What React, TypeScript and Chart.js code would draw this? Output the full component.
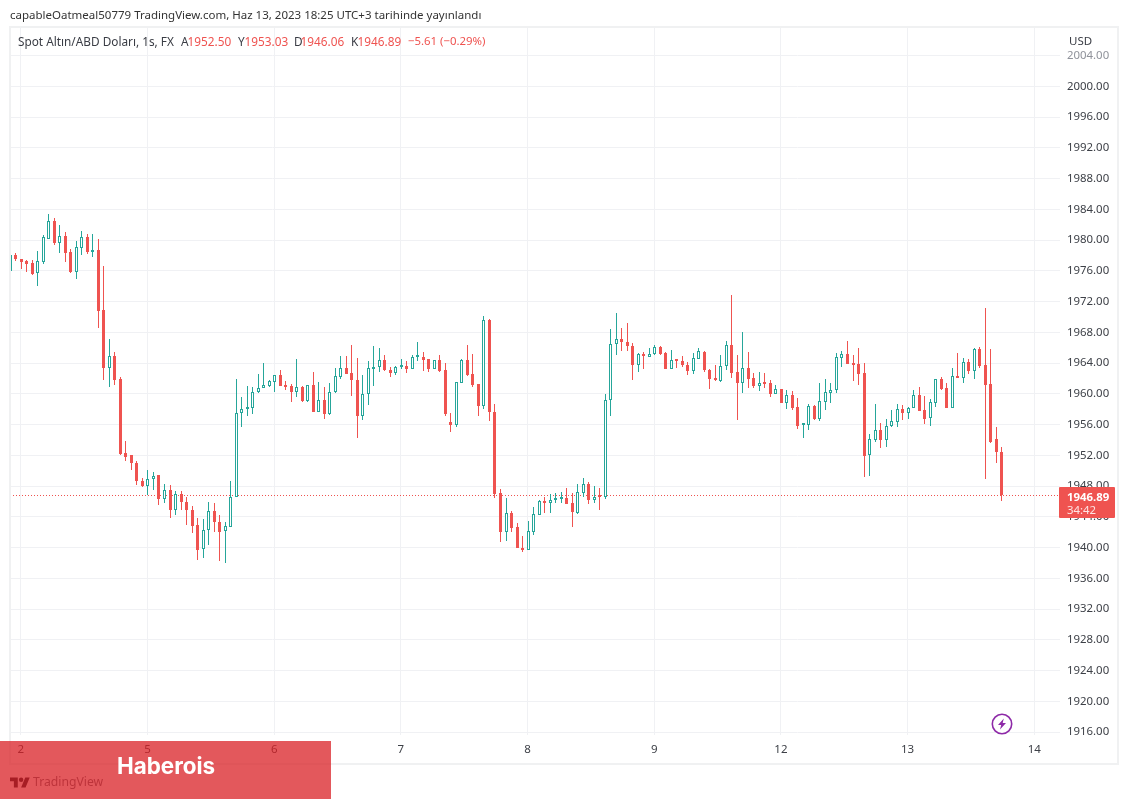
import { useEffect, useRef } from "react";
import Chart from "chart.js/auto";

const FONT = "'Noto Sans', sans-serif";
const UP = "#26a69a";
const DOWN = "#ef5350";
const GRID = "#f0f1f4";
const TEXT = "#3d4047";

const opens = [
  1976.0, 1978.0, 1977.5, 1977.3, 1977.05, 1975.7, 1977.15, 1980.2, 1982.45, 1979.65,
  1980.55, 1978.4, 1975.9, 1979.0, 1980.45, 1978.5, 1978.65, 1970.9, 1963.4, 1964.9,
  1961.9, 1952.25, 1952.0, 1951.0, 1948.7, 1948.0, 1948.9, 1949.4, 1946.35, 1947.5,
  1944.9, 1947.0, 1946.0, 1944.9, 1942.9, 1939.85, 1942.3, 1944.8, 1943.35, 1942.15,
  1942.75, 1946.55, 1957.45, 1958.0, 1958.1, 1960.2, 1960.7, 1961.05, 1961.6, 1962.5,
  1961.2, 1961.05, 1960.3, 1960.9, 1959.05, 1961.15, 1957.7, 1959.2, 1957.4, 1960.2,
  1962.2, 1963.35, 1962.7, 1961.85, 1957.1, 1959.95, 1963.3, 1963.45, 1964.4, 1963.15,
  1962.75, 1963.45, 1963.65, 1963.3, 1964.75, 1964.85, 1964.55, 1963.3, 1964.4, 1963.1,
  1956.35, 1955.95, 1961.45, 1964.4, 1962.6, 1961.3, 1958.45, 1969.6, 1957.65, 1947.1,
  1942.0, 1944.5, 1942.7, 1939.95, 1939.75, 1942.1, 1944.3, 1946.1, 1945.75, 1946.15,
  1946.3, 1946.45, 1945.75, 1944.55, 1947.15, 1948.3, 1946.25, 1946.65, 1946.55, 1959.2,
  1966.5, 1967.15, 1966.75, 1966.2, 1963.7, 1965.05, 1964.85, 1965.15, 1966.15, 1965.35,
  1963.3, 1964.45, 1964.25, 1963.8, 1963.0, 1964.55, 1965.5, 1963.1, 1962.05, 1961.7,
  1963.6, 1966.4, 1962.8, 1961.45, 1963.35, 1962.05, 1961.0, 1961.5, 1961.4, 1960.0,
  1960.6, 1958.85, 1959.8, 1958.25, 1955.95, 1955.9, 1958.4, 1956.75, 1959.0, 1960.15,
  1960.45, 1964.7, 1965.15, 1964.0, 1963.9, 1962.7, 1952.0, 1954.05, 1955.25, 1954.05,
  1955.8, 1956.35, 1958.0, 1957.55, 1958.15, 1959.8, 1957.85, 1956.8, 1958.85, 1961.95,
  1960.75, 1958.2, 1962.35, 1962.1, 1964.1, 1963.0, 1965.85, 1963.75, 1961.3, 1954.15,
  1952.5,
];

const closes = [
  1978.06, 1977.5, 1977.15, 1976.9, 1975.6, 1977.25, 1980.35, 1982.45, 1979.65, 1980.55,
  1978.35, 1975.85, 1979.05, 1980.35, 1978.45, 1978.65, 1970.8, 1963.4, 1964.9, 1961.8,
  1952.2, 1951.85, 1951.0, 1948.65, 1948.0, 1948.95, 1949.35, 1946.3, 1947.5, 1944.85,
  1947.0, 1945.9, 1944.85, 1942.8, 1939.75, 1942.3, 1944.8, 1943.3, 1942.1, 1942.8,
  1946.6, 1957.5, 1958.0, 1958.15, 1960.25, 1960.75, 1961.15, 1961.7, 1962.4, 1961.05,
  1960.95, 1960.3, 1960.9, 1959.05, 1961.15, 1957.7, 1959.2, 1957.4, 1960.25, 1962.35,
  1963.35, 1962.65, 1961.75, 1957.1, 1960.0, 1963.35, 1963.55, 1964.4, 1963.05, 1962.75,
  1963.5, 1963.65, 1963.3, 1964.85, 1964.85, 1964.45, 1963.3, 1964.4, 1963.0, 1957.4,
  1956.0, 1961.55, 1964.45, 1962.5, 1961.2, 1958.45, 1969.6, 1957.6, 1947.0, 1942.0,
  1944.5, 1942.6, 1939.9, 1939.75, 1942.15, 1944.4, 1946.05, 1945.75, 1946.15, 1946.3,
  1946.45, 1945.7, 1944.6, 1947.2, 1948.3, 1946.25, 1946.6, 1946.55, 1959.2, 1966.5,
  1967.15, 1966.7, 1966.2, 1963.7, 1965.15, 1964.9, 1965.2, 1966.15, 1965.25, 1963.3,
  1964.35, 1964.3, 1963.7, 1963.0, 1964.65, 1965.55, 1963.1, 1962.0, 1961.75, 1963.6,
  1966.4, 1962.7, 1961.45, 1963.35, 1961.95, 1961.0, 1961.45, 1961.3, 1960.0, 1960.6,
  1958.85, 1959.8, 1958.2, 1955.85, 1956.0, 1958.4, 1956.75, 1959.05, 1960.2, 1960.5,
  1964.8, 1965.15, 1963.95, 1963.8, 1962.6, 1951.95, 1954.1, 1955.25, 1954.05, 1955.85,
  1956.45, 1958.0, 1957.55, 1958.15, 1959.8, 1957.8, 1956.75, 1958.9, 1961.95, 1960.65,
  1958.2, 1962.3, 1962.1, 1964.1, 1963.0, 1965.85, 1963.65, 1961.15, 1953.8, 1952.45,
  1946.89,
];

const highs = [
  1978.2, 1978.3, 1977.5, 1977.4, 1977.4, 1978.6, 1980.66, 1983.4, 1982.9, 1981.9,
  1981.0, 1978.8, 1979.85, 1981.2, 1980.75, 1980.8, 1980.1, 1976.6, 1967.2, 1965.4,
  1962.15, 1953.85, 1952.1, 1951.25, 1949.0, 1950.15, 1949.8, 1949.5, 1948.3, 1948.15,
  1947.35, 1947.4, 1946.6, 1945.45, 1943.9, 1943.75, 1945.95, 1945.8, 1944.2, 1943.35,
  1948.7, 1961.95, 1959.6, 1961.05, 1960.9, 1962.6, 1964.0, 1961.85, 1962.5, 1963.15,
  1961.7, 1961.3, 1964.55, 1961.0, 1961.2, 1962.8, 1961.5, 1960.95, 1961.4, 1963.4,
  1964.95, 1964.9, 1966.4, 1964.65, 1962.5, 1964.3, 1966.25, 1966.0, 1965.05, 1963.5,
  1963.6, 1964.6, 1964.3, 1965.1, 1966.7, 1965.45, 1964.55, 1964.45, 1965.05, 1964.0,
  1957.5, 1961.55, 1964.6, 1966.4, 1965.2, 1961.3, 1970.15, 1969.75, 1958.7, 1947.6,
  1946.45, 1944.75, 1943.2, 1941.55, 1943.5, 1945.3, 1946.2, 1946.65, 1947.0, 1947.15,
  1947.2, 1947.8, 1947.1, 1948.3, 1949.05, 1948.6, 1948.0, 1947.8, 1960.0, 1968.45,
  1970.5, 1968.55, 1969.25, 1966.65, 1965.35, 1965.45, 1966.0, 1966.4, 1966.25, 1965.5,
  1965.7, 1964.6, 1964.9, 1964.15, 1965.3, 1965.95, 1965.55, 1963.25, 1963.75, 1965.05,
  1966.85, 1972.85, 1965.05, 1968.0, 1965.45, 1962.7, 1962.8, 1962.7, 1961.8, 1961.15,
  1960.65, 1960.5, 1960.35, 1959.45, 1956.2, 1958.65, 1958.5, 1961.4, 1962.0, 1961.4,
  1965.3, 1965.6, 1966.9, 1965.05, 1965.95, 1964.0, 1954.75, 1958.65, 1956.15, 1956.7,
  1957.9, 1958.7, 1958.5, 1958.25, 1960.5, 1960.85, 1959.75, 1959.35, 1962.0, 1962.15,
  1961.4, 1963.35, 1965.3, 1964.65, 1964.5, 1965.95, 1966.15, 1971.15, 1965.9, 1955.75,
  1953.03,
];

const lows = [
  1976.0, 1977.3, 1976.2, 1975.85, 1975.5, 1974.0, 1976.9, 1980.15, 1979.3, 1978.35,
  1977.1, 1975.75, 1975.0, 1978.05, 1978.25, 1977.85, 1968.6, 1961.8, 1960.95, 1961.15,
  1952.1, 1951.3, 1950.1, 1948.1, 1947.95, 1946.9, 1947.5, 1945.6, 1945.75, 1943.9,
  1944.3, 1944.95, 1943.0, 1941.9, 1938.45, 1938.6, 1940.3, 1942.1, 1938.3, 1938.05,
  1942.65, 1946.55, 1955.65, 1957.1, 1957.35, 1960.1, 1960.7, 1960.95, 1960.3, 1961.0,
  1960.5, 1959.0, 1959.65, 1959.0, 1959.0, 1957.7, 1957.7, 1956.75, 1957.3, 1960.1,
  1962.0, 1962.6, 1959.75, 1954.3, 1956.65, 1958.6, 1961.05, 1962.9, 1962.95, 1962.2,
  1962.4, 1963.25, 1962.75, 1963.25, 1964.25, 1963.0, 1962.9, 1963.25, 1962.8, 1957.15,
  1955.0, 1955.7, 1961.4, 1962.35, 1960.85, 1957.15, 1958.05, 1956.5, 1946.4, 1940.8,
  1940.9, 1942.0, 1939.9, 1939.5, 1939.7, 1941.7, 1944.25, 1944.45, 1944.5, 1945.85,
  1945.75, 1945.65, 1942.7, 1944.4, 1946.6, 1945.7, 1945.85, 1944.85, 1946.3, 1957.15,
  1965.1, 1965.6, 1965.55, 1961.75, 1962.9, 1963.25, 1964.85, 1965.1, 1965.1, 1963.3,
  1963.25, 1963.4, 1963.55, 1962.4, 1962.6, 1964.55, 1962.85, 1960.65, 1961.7, 1961.6,
  1963.15, 1962.1, 1956.6, 1960.15, 1960.8, 1960.75, 1960.4, 1960.75, 1959.65, 1959.95,
  1958.75, 1958.05, 1957.9, 1955.45, 1954.2, 1955.35, 1956.6, 1956.5, 1957.9, 1958.8,
  1960.15, 1963.55, 1963.9, 1961.65, 1961.1, 1949.25, 1949.35, 1953.8, 1953.0, 1953.15,
  1955.75, 1955.75, 1956.6, 1956.75, 1958.1, 1957.8, 1956.1, 1955.85, 1958.35, 1960.45,
  1958.15, 1958.15, 1962.05, 1961.45, 1962.6, 1961.95, 1963.4, 1948.95, 1953.65, 1950.95,
  1946.06,
];

// bar numbers where a new day starts, and the day shown there
const dayStarts = [2, 25, 48, 71, 94, 117, 140, 163, 186];
const dayLabels = ["2", "5", "6", "7", "8", "9", "12", "13", "14"];

const priceTicks = [
  1916, 1920, 1924, 1928, 1932, 1936, 1940, 1944, 1948, 1952, 1956, 1960, 1964, 1968, 1972,
  1976, 1980, 1984, 1988, 1992, 1996, 2000, 2004,
];

const lastClose = 1946.89;

const title = "capableOatmeal50779 TradingView.com, Haz 13, 2023 18:25 UTC+3 tarihinde yayınlandı";
const legendName = "Spot Altın/ABD Doları, 1s, FX";
const legendKeys = ["A", "Y", "D", "K"];
const legendValues = ["1952.50", "1953.03", "1946.06", "1946.89"];
const legendKeyX = [181, 238, 294, 351];
const legendChange = "−5.61 (−0.29%)";

const X_MIN = 0.04;
const X_MAX = 190.67;
const Y_MIN = 1915.64;
const Y_MAX = 2007.71;

const label = (left: number, top: number, size: number, color: string) =>
  ({
    position: "absolute",
    left,
    top,
    fontSize: size,
    lineHeight: "16px",
    color,
    whiteSpace: "nowrap",
  }) as const;

// line the candles up with whole pixels so 1px borders stay sharp
const snapToPixels = {
  id: "snapToPixels",
  afterDatasetsUpdate: (chart: any) => {
    chart.data.datasets.forEach((_: any, i: number) => {
      const meta = chart.getDatasetMeta(i);
      meta.data.forEach((el: any) => {
        if (meta.type === "bar") {
          el.x = Math.round(el.x) + 0.5;
          el.y = Math.round(el.y);
          el.base = Math.round(el.base);
        } else {
          el.y = Math.round(el.y) + 0.5;
        }
      });
    });
  },
};

const App = () => {
  const canvasRef = useRef<HTMLCanvasElement | null>(null);

  useEffect(() => {
    if (!canvasRef.current) return;

    const colors = opens.map((o, i) => (closes[i] >= o ? UP : DOWN));

    const chart = new Chart(canvasRef.current, {
      type: "bar",
      plugins: [snapToPixels],
      data: {
        datasets: [
          {
            type: "line",
            data: [
              { x: X_MIN, y: lastClose },
              { x: X_MAX, y: lastClose },
            ],
            borderColor: DOWN,
            borderWidth: 1,
            borderDash: [1, 2],
            pointRadius: 0,
            order: 3,
          },
          {
            // wicks
            data: opens.map((_, i) => ({ x: i, y: [lows[i], highs[i]] })),
            backgroundColor: colors,
            barThickness: 1,
            grouped: false,
            inflateAmount: 0,
            order: 2,
          },
          {
            // bodies, rising candles stay hollow
            data: opens.map((o, i) => ({ x: i, y: [o, closes[i]] })),
            backgroundColor: colors.map((c) => (c === UP ? "#ffffff" : DOWN)),
            borderColor: colors,
            borderWidth: 1,
            borderSkipped: false,
            barThickness: 3,
            minBarLength: 2,
            grouped: false,
            inflateAmount: 0,
            order: 1,
          },
        ],
      } as any,
      options: {
        responsive: false,
        animation: false,
        layout: { padding: { left: 10, top: 27, right: 0, bottom: 35 } },
        plugins: { legend: { display: false }, tooltip: { enabled: false } },
        scales: {
          x: {
            type: "linear",
            min: X_MIN,
            max: X_MAX,
            offset: false,
            border: { display: false },
            grid: { color: GRID, offset: false, drawTicks: false },
            afterBuildTicks: (scale: any) => {
              scale.ticks = dayStarts.map((value) => ({ value }));
            },
            afterFit: (scale: any) => {
              scale.height = 30;
            },
            ticks: {
              autoSkip: false,
              maxRotation: 0,
              padding: 8,
              color: TEXT,
              font: { family: FONT, size: 11.5 },
              callback: (_: any, i: number) => dayLabels[i],
            },
          },
          y: {
            position: "right",
            min: Y_MIN,
            max: Y_MAX,
            border: { display: false },
            grid: { color: GRID, drawTicks: false },
            afterBuildTicks: (scale: any) => {
              scale.ticks = priceTicks.map((value) => ({ value }));
            },
            afterFit: (scale: any) => {
              scale.width = 69;
            },
            ticks: {
              padding: 7,
              color: (ctx: any) => (ctx.tick.value === 2004 ? "#8f929a" : TEXT),
              font: { family: FONT, size: 11.4 },
              callback: (v: any) => Number(v).toFixed(2),
            },
          },
        },
      },
    });

    return () => {
      chart.destroy();
    };
  }, []);

  return (
    <div
      style={{
        position: "absolute",
        left: 0,
        top: 0,
        width: 1129,
        height: 800,
        overflow: "hidden",
        background: "#fff",
        fontFamily: FONT,
      }}
    >
      <canvas ref={canvasRef} width={1129} height={800} style={{ display: "block" }} />

      {/* frame around the chart */}
      <div
        style={{
          position: "absolute",
          left: 9,
          top: 26,
          width: 1106,
          height: 735,
          border: "2px solid #f0f1f2",
        }}
      />

      <div style={label(10, 7, 11.5, "#333")}>{title}</div>
      <div style={label(18, 33, 11.8, "#3a3d45")}>{legendName}</div>
      {legendKeys.map((k, i) => (
        <div key={k}>
          <div style={label(legendKeyX[i], 33, 11.8, "#3a3d45")}>{k}</div>
          <div style={label(legendKeyX[i] + 6.5, 33, 11.8, DOWN)}>{legendValues[i]}</div>
        </div>
      ))}
      <div style={label(408, 33, 11.4, DOWN)}>{legendChange}</div>
      <div style={label(1069, 33, 11.5, "#3a3d45")}>USD</div>

      {/* last price tag */}
      <div
        style={{
          position: "absolute",
          left: 1059,
          top: 487,
          width: 56,
          height: 31,
          background: DOWN,
          borderRadius: 1,
        }}
      />
      <div style={{ ...label(1067, 488.5, 11.4, "#fff"), fontWeight: 700 }}>{lastClose.toFixed(2)}</div>
      <div style={label(1067, 501.5, 11.4, "#fde3e2")}>34:42</div>

      {/* lightning badge */}
      <svg
        width="24"
        height="24"
        viewBox="0 0 24 24"
        style={{ position: "absolute", left: 989.5, top: 712 }}
      >
        <circle cx="12" cy="12" r="9.7" fill="#fff" stroke="#8e2aa8" strokeWidth="1.6" />
        <path d="M13.8 6.5 8 13h3.2l-1.2 4.6L16 11h-3.3z" fill="#8e2aa8" />
      </svg>

      {/* TradingView mark sits under the red banner */}
      <svg
        width="20"
        height="16"
        viewBox="0 0 36 28"
        fill="#131722"
        style={{ position: "absolute", left: 10, top: 775 }}
      >
        <path d="M14 22H7V11H0V4h14zM28 22h-8l7.5-18h8z" />
        <circle cx="20" cy="8" r="4" />
      </svg>
      <div style={label(33, 774, 12.2, "#6a6d78")}>TradingView</div>

      <div
        style={{
          position: "absolute",
          left: 0,
          top: 741,
          width: 331,
          height: 58,
          background: "rgba(217, 32, 37, 0.75)",
        }}
      />
      <div
        style={{
          position: "absolute",
          left: 117,
          top: 751,
          fontFamily: "Inter, sans-serif",
          fontWeight: 700,
          fontSize: 22.4,
          lineHeight: "30px",
          color: "#fff",
        }}
      >
        Haberois
      </div>
    </div>
  );
};

export default App;
